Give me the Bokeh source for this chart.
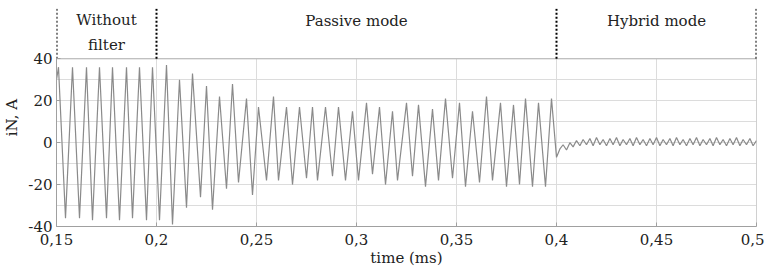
from bokeh.plotting import figure
from bokeh.models import FixedTicker, Range1d
from bokeh.embed import file_html
from bokeh.resources import INLINE
from bokeh.core.properties import value

# ---- data (time in ms, current in A) ----
t_nofilter = [0.1500, 0.1510, 0.1545, 0.1580, 0.1615, 0.1650, 0.1680, 0.1715, 0.1750, 0.1780,
              0.1815, 0.1850, 0.1880, 0.1915, 0.1950, 0.1980, 0.2015]
i_nofilter = [30, 36, -36, 36, -36, 36, -37, 36, -36, 36,
              -37, 36, -36, 36, -37, 36, -37]

t_passive = [0.2050, 0.2080, 0.2115, 0.2150, 0.2180, 0.2220, 0.2250, 0.2280, 0.2315, 0.2350,
             0.2380, 0.2410, 0.2450, 0.2480, 0.2510, 0.2550, 0.2585, 0.2610, 0.2650, 0.2680,
             0.2715, 0.2750, 0.2780, 0.2805, 0.2845, 0.2880, 0.2910, 0.2945, 0.2980, 0.3010,
             0.3050, 0.3080, 0.3115, 0.3145, 0.3180, 0.3205, 0.3250, 0.3280, 0.3310, 0.3345,
             0.3380, 0.3410, 0.3445, 0.3480, 0.3515, 0.3545, 0.3580, 0.3615, 0.3650, 0.3680,
             0.3720, 0.3750, 0.3785, 0.3815, 0.3845, 0.3880, 0.3910, 0.3945, 0.3975, 0.4000]
i_passive = [37, -39, 30, -31, 33, -26, 27, -32, 22, -22,
             28, -19, 21, -25, 17, -18, 22, -18, 17, -20,
             17, -17, 17, -18, 17, -16, 17, -18, 15, -18,
             19, -15, 17, -20, 15, -18, 19, -16, 18, -21,
             16, -18, 21, -17, 19, -21, 15, -19, 22, -18,
             19, -21, 18, -20, 21, -21, 19, -21, 21, -7]

t_hybrid = [0.4017, 0.4033, 0.4050, 0.4067, 0.4083, 0.4100, 0.4117, 0.4133, 0.4150, 0.4167,
            0.4183, 0.4200, 0.4217, 0.4233, 0.4250, 0.4267, 0.4283, 0.4300, 0.4317, 0.4333,
            0.4350, 0.4367, 0.4383, 0.4400, 0.4417, 0.4433, 0.4450, 0.4467, 0.4483, 0.4500,
            0.4517, 0.4533, 0.4550, 0.4567, 0.4583, 0.4600, 0.4617, 0.4633, 0.4650, 0.4667,
            0.4683, 0.4700, 0.4717, 0.4733, 0.4750, 0.4767, 0.4783, 0.4800, 0.4817, 0.4833,
            0.4850, 0.4867, 0.4883, 0.4900, 0.4917, 0.4933, 0.4950, 0.4967, 0.4983, 0.5000]
i_hybrid = [-3.0, -1.0, -3.5, 0.0, -2.0, 1.0, -1.5, 1.5, -1.0, 2.0,
            -1.5, 2.5, -1.0, 1.5, -1.5, 2.0, -1.0, 2.5, -1.5, 1.5,
            -1.0, 2.0, -1.5, 2.5, -1.0, 1.5, -1.5, 2.0, -1.0, 2.5,
            -1.5, 1.5, -1.0, 2.0, -1.5, 2.5, -1.0, 1.5, -1.5, 2.0,
            -1.0, 2.5, -1.5, 1.5, -1.0, 2.0, -1.5, 2.5, -1.0, 1.5,
            -1.5, 2.0, -1.0, 2.5, -1.5, 1.5, -1.0, 2.0, -1.5, 1.0]

x_ticks = [0.15, 0.2, 0.25, 0.3, 0.35, 0.4, 0.45, 0.5]
x_tick_labels = ["0,15", "0,2", "0,25", "0,3", "0,35", "0,4", "0,45", "0,5"]
y_ticks = [-40, -20, 0, 20, 40]
y_tick_labels = ["-40", "-20", "0", "20", "40"]
y_grid = [-40, -30, -20, -10, 0, 10, 20, 30, 40]

mode_bounds = [0.15, 0.2, 0.4, 0.5]
mode_names = ["Without\nfilter", "Passive mode", "Hybrid mode"]
mode_label_y = [52.5, 58.0, 58.0]

t_all = t_nofilter + t_passive + t_hybrid
i_all = i_nofilter + i_passive + i_hybrid

FONT = "DejaVu Serif"
Y_TOP = 64.0

p = figure(width=764, height=269, output_backend="svg", toolbar_location=None,
           x_range=Range1d(x_ticks[0], x_ticks[-1]), y_range=Range1d(y_ticks[0], Y_TOP))
p.min_border_left = 56
p.min_border_right = 8
p.min_border_top = 8
p.min_border_bottom = 40
p.outline_line_color = None
p.background_fill_color = "white"

# grid
p.xgrid.visible = False
p.ygrid.ticker = FixedTicker(ticks=y_grid)
p.ygrid.grid_line_color = "#dcdcdc"
p.ygrid.grid_line_width = 1
p.segment(x0=x_ticks, y0=[y_ticks[0]] * len(x_ticks), x1=x_ticks, y1=[y_ticks[-1]] * len(x_ticks),
          line_color="#dcdcdc", line_width=1)
# frame top / right border
p.line(x=[x_ticks[0], x_ticks[-1], x_ticks[-1]], y=[y_ticks[-1], y_ticks[-1], y_ticks[0]],
       line_color="#b4b4b4", line_width=1)

# waveform
p.line(x=t_all, y=i_all, line_color="#8a8a8a", line_width=1.2)

# mode boundaries and labels
p.segment(x0=mode_bounds, y0=[y_ticks[-1]] * len(mode_bounds), x1=mode_bounds,
          y1=[Y_TOP] * len(mode_bounds), line_color="black", line_width=2, line_dash="2 2")
mids = [(a + b) / 2 for a, b in zip(mode_bounds[:-1], mode_bounds[1:])]
p.text(x=mids, y=mode_label_y, text=mode_names, text_font=value(FONT), text_font_size="15px",
       text_align="center", text_baseline="middle", text_color="#222222", text_line_height=1.35)

# axes
p.xaxis.ticker = FixedTicker(ticks=x_ticks)
p.xaxis.major_label_overrides = dict(zip(x_ticks, x_tick_labels))
p.yaxis.ticker = FixedTicker(ticks=y_ticks)
p.yaxis.major_label_overrides = dict(zip(y_ticks, y_tick_labels))
p.yaxis.bounds = (y_ticks[0], y_ticks[-1])
p.xaxis.axis_label = "time (ms)"
p.yaxis.axis_label = "iN, A"
for ax in (p.xaxis[0], p.yaxis[0]):
    ax.axis_line_color = "#a0a0a0"
    ax.major_tick_line_color = "#a0a0a0"
    ax.major_tick_out = 0
    ax.major_tick_in = 4
    ax.minor_tick_out = 0
    ax.minor_tick_in = 0
    ax.major_label_text_font = FONT
    ax.major_label_text_font_size = "15px"
    ax.major_label_text_color = "#222222"
    ax.axis_label_text_font = FONT
    ax.axis_label_text_font_size = "15px"
    ax.axis_label_text_font_style = "normal"
    ax.axis_label_text_color = "#222222"
p.xaxis.major_label_standoff = 7
p.xaxis.axis_label_standoff = 1
p.yaxis.major_label_standoff = 4
p.yaxis.axis_label_standoff = 4

open("out.html", "w").write(file_html(p, INLINE))
